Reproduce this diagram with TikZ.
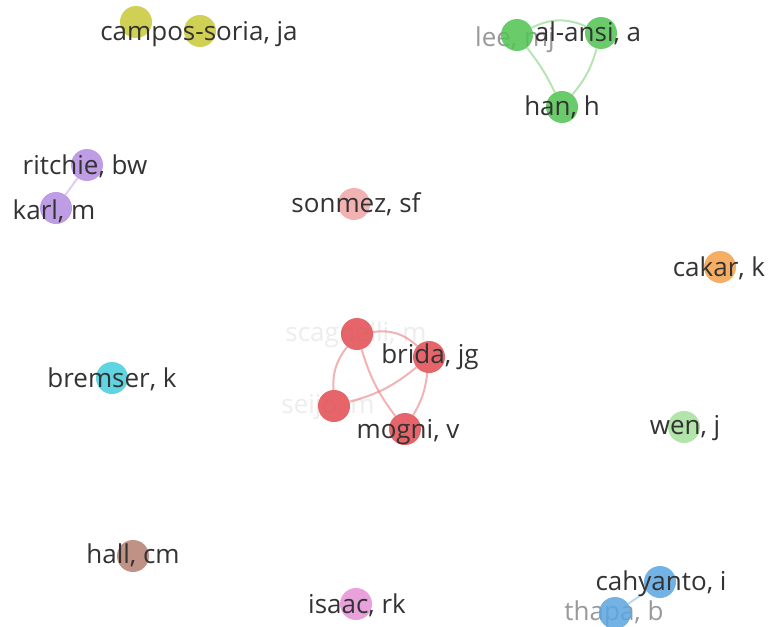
\documentclass[tikz,border=0pt]{standalone}
\usepackage{fontspec}
\setmainfont{Open Sans}
\begin{document}
\begin{tikzpicture}[x=1pt,y=-1pt,
  dot/.style={circle,minimum size=32pt,inner sep=0pt,fill opacity=0.85},
  lab/.style={text=black!80,font=\fontsize{26}{30}\selectfont,inner sep=0pt,anchor=center},
  faint/.style={text=black!40,font=\fontsize{26}{30}\selectfont,inner sep=0pt,anchor=center},
  ghost/.style={text=black!7,font=\fontsize{26}{30}\selectfont,inner sep=0pt,anchor=center},
  link/.style={line width=2pt,opacity=0.6}]
\useasboundingbox (0,0) rectangle (770,626);
\fill[white] (0,0) rectangle (770,626);

\definecolor{cyel}{RGB}{200,200,55}
\definecolor{cgrn}{RGB}{80,195,80}
\definecolor{cpur}{RGB}{180,140,225}
\definecolor{cpnk}{RGB}{240,165,165}
\definecolor{corg}{RGB}{245,160,75}
\definecolor{cred}{RGB}{225,75,80}
\definecolor{ccyn}{RGB}{70,205,220}
\definecolor{clgr}{RGB}{165,225,155}
\definecolor{cbrn}{RGB}{180,128,112}
\definecolor{cmag}{RGB}{230,145,215}
\definecolor{cblu}{RGB}{90,165,225}

% faded labels behind the circles
\node[faint] (tlee) at (515,40) {lee, mj};
\node[ghost] (tscag) at (356,335) {scagnelli, m};
\node[ghost] (tseijo) at (328,407) {seijo, m};
\node[faint] (tthapa) at (614,614) {thapa, b};

% circles
\node[dot,fill=cyel] (camp1) at (136,22) {};
\node[dot,fill=cyel] (camp2) at (200,31) {};
\node[dot,fill=cgrn] (lee) at (517,35) {};
\node[dot,fill=cgrn] (ansi) at (601,33) {};
\node[dot,fill=cgrn] (han) at (562,107) {};
\node[dot,fill=cpur] (ritchie) at (87,165) {};
\node[dot,fill=cpur] (karl) at (56,208) {};
\node[dot,fill=cpnk] (sonmez) at (354,204) {};
\node[dot,fill=corg] (cakar) at (720,267) {};
\node[dot,fill=cred] (scag) at (357,334) {};
\node[dot,fill=cred] (brida) at (429,357) {};
\node[dot,fill=cred] (seijo) at (334,406) {};
\node[dot,fill=cred] (mogni) at (405,429) {};
\node[dot,fill=ccyn] (bremser) at (112,378) {};
\node[dot,fill=clgr] (wen) at (684,427) {};
\node[dot,fill=cbrn] (hall) at (133,556) {};
\node[dot,fill=cmag] (isaac) at (356,604) {};
\node[dot,fill=cblu] (cahy) at (660,582) {};
\node[dot,fill=cblu] (thapa) at (615,613) {};

% links
\draw[link,cgrn!70] (lee) to[bend left=25] (ansi);
\draw[link,cgrn!70] (lee) to[bend left=6] (han);
\draw[link,cgrn!70] (ansi) to[bend left=12] (han);
\draw[link,cpur!70] (ritchie) -- (karl);
\draw[link,cred!70] (scag) to[bend left=25] (brida);
\draw[link,cred!70] (scag) to[bend right=20] (seijo);
\draw[link,cred!70] (scag) to[bend right=10] (mogni);
\draw[link,cred!70] (seijo) to[bend right=12] (brida);
\draw[link,cred!70] (brida) to[bend left=12] (mogni);
\draw[link,cblu!70] (cahy) -- (thapa);

% labels
\node[lab] (tcamp) at (199,34) {campos-soria, ja};
\node[lab] (tansi) at (588,33) {al-ansi, a};
\node[lab] (than) at (562,107) {han, h};
\node[lab] (tritchie) at (85,166) {ritchie, bw};
\node[lab] (tkarl) at (54,211) {karl, m};
\node[lab] (tsonmez) at (356,204) {sonmez, sf};
\node[lab] (tcakar) at (719,268) {cakar, k};
\node[lab] (tbrida) at (430,357) {brida, jg};
\node[lab] (tmogni) at (408,432) {mogni, v};
\node[lab] (tbremser) at (112,379) {bremser, k};
\node[lab] (twen) at (685,428) {wen, j};
\node[lab] (thall) at (133,555) {hall, cm};
\node[lab] (tisaac) at (357,605) {isaac, rk};
\node[lab] (tcahy) at (661,584) {cahyanto, i};
\end{tikzpicture}
\end{document}
